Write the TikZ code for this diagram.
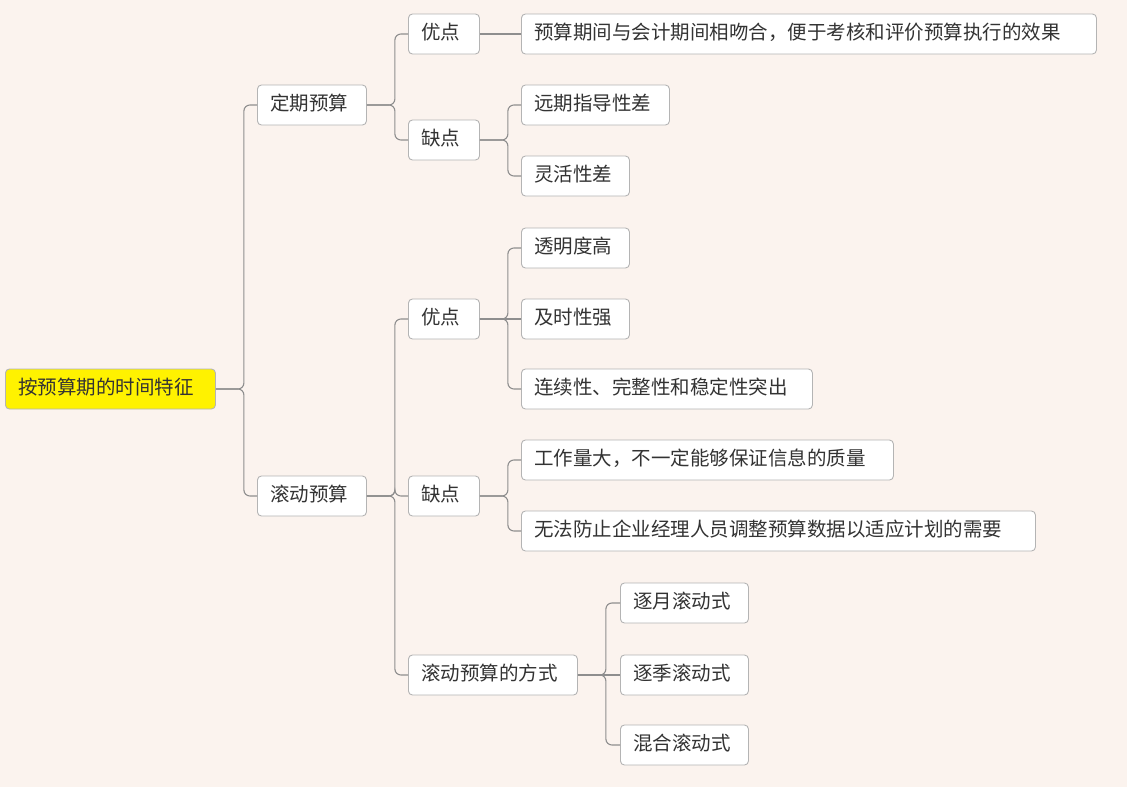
\documentclass[tikz,border=0pt]{standalone}
\usepackage{fontspec}
\setmainfont{Noto Sans CJK SC}
\begin{document}
\begin{tikzpicture}[x=1pt,y=-1pt,
  box/.style={draw=boxc,fill=white,rounded corners=4pt,line width=0.9pt,text=txt,anchor=west,minimum height=40pt,inner xsep=13pt,inner ysep=0pt,text width=#1-26pt,align=left,text height=15pt,text depth=4pt,font=\fontsize{19.5}{22}\selectfont},
  link/.style={draw=linec,line width=1.1pt,rounded corners=6pt},
  straight/.style={draw=linec,line width=1.1pt}]
\definecolor{bg}{HTML}{FBF3EE}
\definecolor{boxc}{HTML}{B4B4B4}
\definecolor{linec}{HTML}{8E8E8E}
\definecolor{txt}{HTML}{333333}
\fill[bg] (0,0) rectangle (1127,787);
\useasboundingbox (0,0) rectangle (1127,787);
\node[box=210pt,fill=yellow] (r) at (5,389) {按预算期的时间特征};
\node[box=109pt] (a) at (257,105) {定期预算};
\node[box=109pt] (b) at (257,496) {滚动预算};
\node[box=71pt] (a1) at (408,34) {优点};
\node[box=71pt] (a2) at (408,140) {缺点};
\node[box=575pt] (a11) at (521,34) {预算期间与会计期间相吻合，便于考核和评价预算执行的效果};
\node[box=148pt] (a21) at (521,105) {远期指导性差};
\node[box=108pt] (a22) at (521,176) {灵活性差};
\node[box=71pt] (b1) at (408,319) {优点};
\node[box=71pt] (b2) at (408,496) {缺点};
\node[box=169pt] (b3) at (408,675) {滚动预算的方式};
\node[box=108pt] (b11) at (521,248) {透明度高};
\node[box=108pt] (b12) at (521,319) {及时性强};
\node[box=291pt] (b13) at (521,389) {连续性、完整性和稳定性突出};
\node[box=372pt] (b21) at (521,460) {工作量大，不一定能够保证信息的质量};
\node[box=514pt] (b22) at (521,531) {无法防止企业经理人员调整预算数据以适应计划的需要};
\node[box=128pt] (b31) at (620,603) {逐月滚动式};
\node[box=128pt] (b32) at (620,675) {逐季滚动式};
\node[box=128pt] (b33) at (620,745) {混合滚动式};
\foreach \p/\c in {r/a,r/b,a/a1,a/a2,a2/a21,a2/a22,b/b1,b/b2,b/b3,b1/b11,b1/b13,b2/b21,b2/b22,b3/b31,b3/b33}
  \draw[link] (\p.east) -- ++(28,0) |- (\c.west);
\foreach \p/\c in {a1/a11,b1/b12,b3/b32}
  \draw[straight] (\p.east) -- (\c.west);
\end{tikzpicture}
\end{document}
